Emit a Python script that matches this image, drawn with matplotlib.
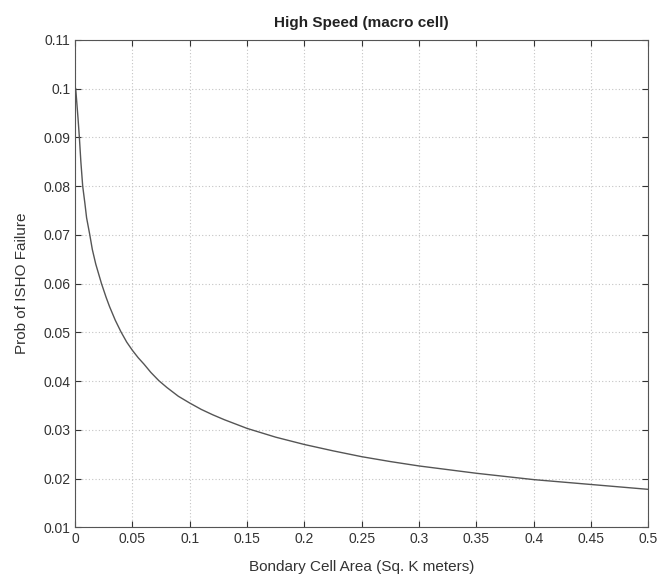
import matplotlib.pyplot as plt

# values
area = [0.0005, 0.0015, 0.0025, 0.0037, 0.005, 0.0066, 0.0085, 0.01, 0.0128,
        0.015, 0.018, 0.023, 0.027, 0.03, 0.035, 0.04, 0.045, 0.05, 0.055, 0.06,
        0.066, 0.073, 0.08, 0.09, 0.1, 0.11, 0.12, 0.13, 0.14, 0.15, 0.175,
        0.2, 0.225, 0.25, 0.275, 0.3, 0.35, 0.4, 0.45, 0.5]
prob = [0.1, 0.097, 0.094, 0.09, 0.085, 0.08, 0.0765, 0.0735, 0.07,
        0.067, 0.064, 0.06, 0.0572, 0.0553, 0.0525, 0.0501, 0.048, 0.0463, 0.0448, 0.0435,
        0.0418, 0.0401, 0.0387, 0.0369, 0.0355, 0.0342, 0.0331, 0.0321, 0.0312, 0.0303, 0.0285,
        0.027, 0.0257, 0.0245, 0.0235, 0.0226, 0.0211, 0.0198, 0.0188, 0.0178]

x_ticks = [0, 0.05, 0.1, 0.15, 0.2, 0.25, 0.3, 0.35, 0.4, 0.45, 0.5]
x_labels = ["0", "0.05", "0.1", "0.15", "0.2", "0.25", "0.3", "0.35", "0.4", "0.45", "0.5"]
y_ticks = [0.01, 0.02, 0.03, 0.04, 0.05, 0.06, 0.07, 0.08, 0.09, 0.1, 0.11]
y_labels = ["0.01", "0.02", "0.03", "0.04", "0.05", "0.06", "0.07", "0.08", "0.09", "0.1", "0.11"]

plt.rcParams["font.family"] = ["Liberation Sans", "DejaVu Sans"]

fig = plt.figure(figsize=(6.59, 5.86), dpi=100)
ax = fig.add_axes([0.114, 0.100, 0.870, 0.832])
ax.plot(area, prob, color="#555555", linewidth=1.0)

ax.set_xlim(0, 0.5)
ax.set_ylim(0.01, 0.11)
ax.set_xticks(x_ticks)
ax.set_xticklabels(x_labels)
ax.set_yticks(y_ticks)
ax.set_yticklabels(y_labels)
ax.tick_params(direction="in", top=True, right=True, length=4, labelsize=10,
               colors="#333333")
ax.grid(True, linestyle=(0, (1, 2)), color="#c4c4c4", linewidth=0.8)
for s in ax.spines.values():
    s.set_color("#555555")

ax.set_title("High Speed (macro cell)", fontsize=11, fontweight="bold", color="#222222", pad=9)
ax.set_xlabel("Bondary Cell Area (Sq. K meters)", fontsize=11, color="#333333", labelpad=10)
ax.set_ylabel("Prob of ISHO Failure", fontsize=11, color="#333333", labelpad=10)

fig.savefig("out.png", dpi=100)
